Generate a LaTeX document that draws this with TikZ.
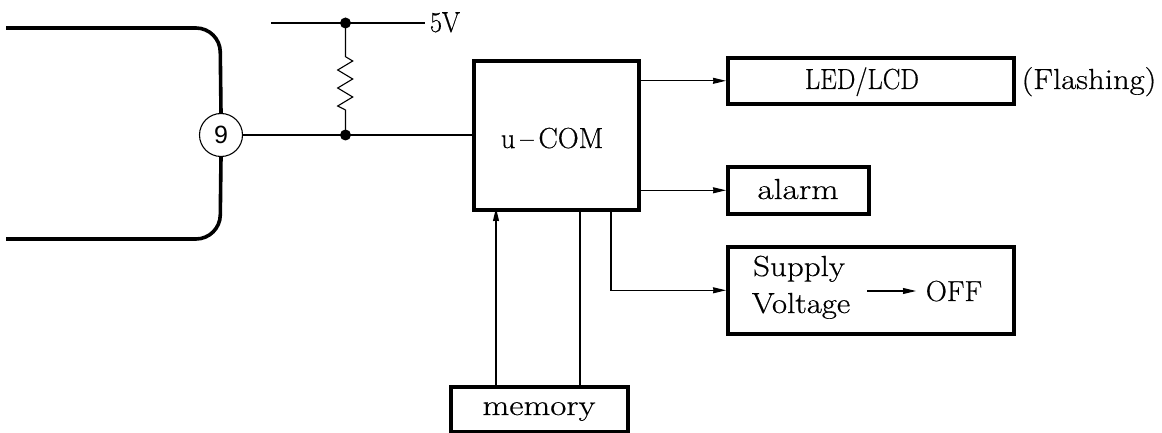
\documentclass[tikz,border=0pt]{standalone}
\usepackage{fontspec}
\usetikzlibrary{arrows.meta,calc}
\newfontfamily\numfont{Liberation Sans}
\newfontfamily\labfont[RawFeature={embolden=0.5}]{Latin Modern Roman}
\tikzset{
  x=1pt,y=-1pt,
  thinline/.style={line width=1.1pt},
  thick line/.style={line width=3.6pt},
  boxn/.style={draw,line width=3.6pt,inner sep=0pt,anchor=north west},
  lbl/.style={font=\labfont\fontsize{29}{32}\selectfont,inner sep=0pt,anchor=base},
  arr/.style={thinline,-{Stealth[length=13pt,width=6pt,inset=.5pt]}},
  dotn/.style={circle,fill=black,inner sep=0pt,minimum size=11pt}
}
\begin{document}
\begin{tikzpicture}
\useasboundingbox (0,0) rectangle (1162,433);
% boxes
\node[boxn,minimum width=165pt,minimum height=149pt] (ucom) at (472,59) {};
\node[boxn,minimum width=286pt,minimum height=46pt] (led) at (726,56) {};
\node[boxn,minimum width=141pt,minimum height=47pt] (alarm) at (726,165) {};
\node[boxn,minimum width=286pt,minimum height=87pt] (supply) at (726,245) {};
\node[boxn,minimum width=177pt,minimum height=45pt] (mem) at (449,385) {};
% labels
\node[lbl,xscale=1.0] (tu) at (552,148) {u\,–\,COM};
\node[lbl,xscale=.91] (tl) at (862,89) {LED/LCD};
\node[lbl,xscale=1.13] (tf) at (1089,89) {(Flashing)};
\node[lbl,xscale=1.22] (ta) at (798,199) {alarm};
\node[lbl,xscale=1.14] (ts) at (799,276) {Supply};
\node[lbl,xscale=1.13] (tv) at (801,313) {Voltage};
\node[lbl,xscale=1.01] (to) at (954,301) {OFF};
\node[lbl,xscale=1.2] (tm) at (539,415) {memory};
\node[lbl,xscale=.9] (t5) at (445,32) {5V};
% left shape and pin
\node[draw,thinline,circle,minimum size=43pt,inner sep=0pt,fill=white,font=\numfont\fontsize{25}{28}\selectfont] (pin) at (221,135) {9};
\coordinate (lt) at (6,28);
\coordinate (lb) at (6,239);
\draw[thick line,rounded corners=24pt] (lt) -- (220,28) -- (pin.north);
\draw[thick line,rounded corners=24pt] (lb) -- (220,239) -- (pin.south);
% supply and resistor
\coordinate (vs) at (271,23);
\coordinate (ve) at (425,23);
\node[dotn] (j1) at (345.5,23) {};
\node[dotn] (j2) at (345.5,135) {};
\draw[thinline] (vs) -- (ve);
\draw[thinline] (j1.center) -- (345.5,56.7) -- (352.7,61) -- (337.7,70) -- (352.7,79) -- (337.7,88) -- (352.7,97) -- (337.7,106) -- (345.5,110) -- (j2.center);
\draw[thinline] (pin.east) -- (j2.center) -- (ucom.west |- j2);
% outputs
\coordinate (o1) at (ucom.east |- led.west);
\coordinate (o2) at (ucom.east |- alarm.west);
\coordinate (o3) at (611,208);
\coordinate (m1) at (496,208);
\coordinate (m2) at (580,208);
\draw[arr] (o1) -- (led.west);
\draw[arr] (o2) -- (alarm.west);
\draw[arr] (o3) |- (supply.west);
\draw[arr] (m1 |- mem.north) -- (m1);
\draw[thinline] (m2) -- (m2 |- mem.north);
\coordinate (ia) at (867,291);
\coordinate (ib) at (916,291);
\draw[arr] (ia) -- (ib);
\end{tikzpicture}
\end{document}
